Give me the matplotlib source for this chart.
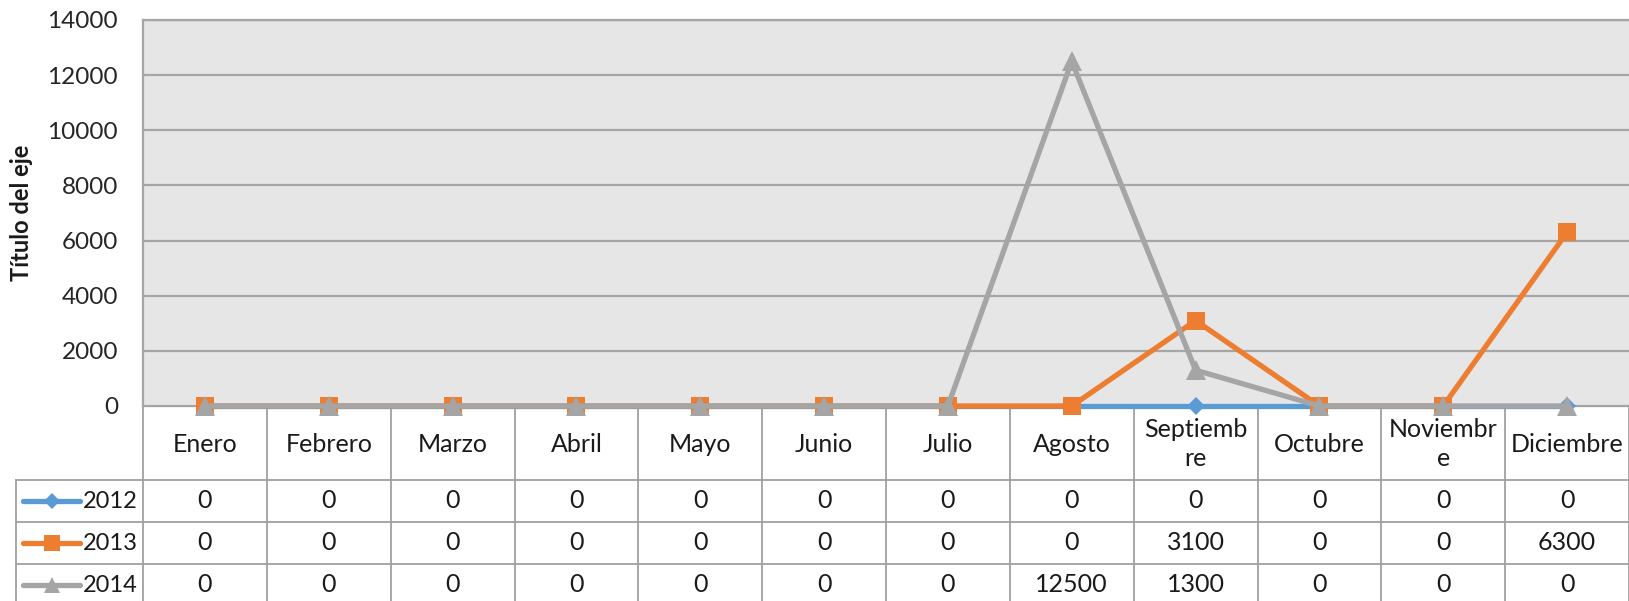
import matplotlib
matplotlib.use("Agg")
import matplotlib.pyplot as plt
from matplotlib.lines import Line2D

plt.rcParams['font.family'] = ['Lato', 'DejaVu Sans']

months = ["Enero", "Febrero", "Marzo", "Abril", "Mayo", "Junio", "Julio",
          "Agosto", "Septiembre", "Octubre", "Noviembre", "Diciembre"]
month_labels = ["Enero", "Febrero", "Marzo", "Abril", "Mayo", "Junio", "Julio",
                "Agosto", "Septiemb\nre", "Octubre", "Noviembr\ne", "Diciembre"]
series_names = ["2012", "2013", "2014"]
v2012 = [0, 0, 0, 0, 0, 0, 0, 0, 0, 0, 0, 0]
v2013 = [0, 0, 0, 0, 0, 0, 0, 0, 3100, 0, 0, 6300]
v2014 = [0, 0, 0, 0, 0, 0, 0, 12500, 1300, 0, 0, 0]
yticks = [0, 2000, 4000, 6000, 8000, 10000, 12000, 14000]
ylabel = "Título del eje"

colors = ["#5B9BD5", "#ED7D31", "#A5A5A5"]
markers = ["D", "s", "^"]
msizes = [9, 13, 14]
values = [v2012, v2013, v2014]

W, H = 1629, 601
fig = plt.figure(figsize=(W / 100, H / 100), dpi=100)

left, right, top, zero = 143, 1629, 20, 406
cw = (right - left) / len(months)

tb = fig.add_axes([left / W, 0, (right - left) / W, (H - zero) / H])
tb.set_zorder(0)
tb.set_xlim(-0.5, len(months) - 0.5)
tb.set_ylim(H - zero, 0)
tb.axis("off")

ax = fig.add_axes([left / W, (H - zero) / H, (right - left) / W, (zero - top) / H])
ax.set_zorder(2)
ax.set_facecolor("#E6E6E6")
x = list(range(len(months)))
ax.set_xlim(-0.5, len(months) - 0.5)
ax.set_ylim(0, 14000)
ax.set_yticks(yticks)
ax.set_yticklabels([str(t) for t in yticks], fontsize=17.5, color="#262626")
ax.tick_params(axis="y", length=0, pad=18)
ax.set_xticks([])
ax.grid(axis="y", color="#A6A6A6", lw=1.6)
ax.set_axisbelow(True)
for s in ["right", "bottom"]:
    ax.spines[s].set_visible(False)
for s in ["left", "top"]:
    ax.spines[s].set_color("#A6A6A6")
    ax.spines[s].set_linewidth(1.6)
ax.set_ylabel(ylabel, fontsize=17, fontweight="bold", color="#1a1a1a")
ax.yaxis.set_label_coords(-110 / (right - left), 0.5)

for vals, c, m, ms in zip(values, colors, markers, msizes):
    ax.plot(x, vals, color=c, lw=3.8, marker=m, markersize=ms,
            markeredgewidth=0, clip_on=False, zorder=3, solid_capstyle="round")

lc = "#A0A0A0"
hdr = 74
rows_y = [hdr, hdr + 42, hdr + 84, hdr + 126]
xl = -0.5 - (left - 16) / cw
for xi in range(len(months) + 1):
    tb.plot([xi - 0.5, xi - 0.5], [0, H - zero + 5], color=lc, lw=1.3, clip_on=False)
tb.plot([xl, xl], [hdr, H - zero + 5], color=lc, lw=1.3, clip_on=False)
tb.plot([-0.5, len(months) - 0.5], [0, 0], color=lc, lw=1.6, clip_on=False)
for ry in rows_y[:3]:
    tb.plot([xl, len(months) - 0.5], [ry, ry], color=lc, lw=1.3, clip_on=False)

for i, lab in enumerate(month_labels):
    tb.text(i, hdr / 2 + 1, lab, ha="center", va="center", fontsize=18,
            color="#1a1a1a", linespacing=1.35)

for r, (name, vals, c, m, ms) in enumerate(zip(series_names, values, colors, markers, msizes)):
    cy = rows_y[r] + 21
    for i, v in enumerate(vals):
        tb.text(i, cy, str(v), ha="center", va="center", fontsize=18, color="#1a1a1a")
    lx0 = xl + 7 / cw
    lx1 = xl + 64 / cw
    tb.add_line(Line2D([lx0, lx1], [cy, cy], color=c, lw=3.8, solid_capstyle="round",
                       clip_on=False))
    tb.add_line(Line2D([(lx0 + lx1) / 2], [cy], color=c, marker=m,
                       markersize=ms * 0.85, markeredgewidth=0, clip_on=False))
    tb.text(-0.5 - 5 / cw, cy, name, ha="right", va="center", fontsize=17, color="#1a1a1a")

fig.savefig("out.png", dpi=100)
